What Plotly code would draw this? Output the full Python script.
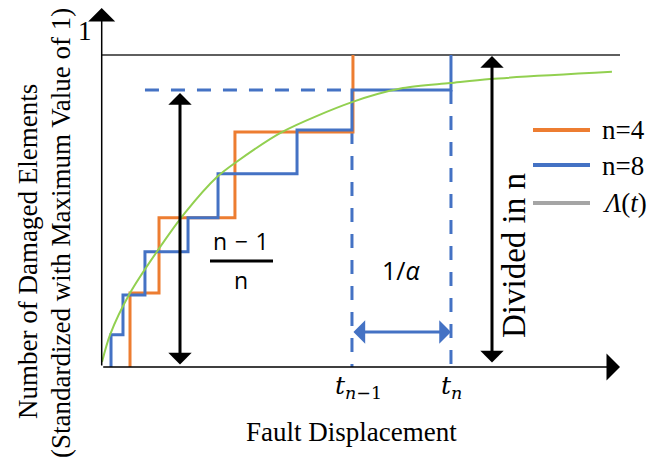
import plotly.graph_objects as go

# ---------------- data ----------------
# n = 4 step function: jump positions and levels after each jump
n4_jump_x = [0.286, 0.579, 1.346, 2.538]
n4_levels = [0.237, 0.478, 0.753, 1.000]
# n = 8 step function
n8_jump_x = [0.094, 0.215, 0.437, 0.872, 1.175, 1.973, 2.528, 3.528]
n8_levels = [0.103, 0.231, 0.369, 0.478, 0.619, 0.760, 0.888, 1.000]
# Lambda(t) curve
lam_x = [0.003, 0.084, 0.286, 0.569, 0.841, 1.164, 1.346, 1.820, 2.528, 3.043, 3.518, 3.922, 5.154]
lam_y = [0.016, 0.103, 0.237, 0.375, 0.494, 0.609, 0.654, 0.753, 0.849, 0.894, 0.910, 0.923, 0.946]
# start of the dashed (n-1)/n guide line
dash_h_start = 0.437
legend_labels = ["n=4", "n=8", "<i>Λ</i>(<i>t</i>)"]
x_label = "Fault Displacement"
y_label_1 = "Number of Damaged Elements"
y_label_2 = "(Standardized with Maximum Value of 1)"

# ---------------- styling / layout ----------------
W, H = 650, 463
ORANGE = "#ED7D31"
BLUE = "#4472C4"
GREEN = "#92D050"
GRAY = "#A5A5A5"
SERIF = "Liberation Serif, Times New Roman, serif"
MATH = "DejaVu Serif, serif"
SANS = "Open Sans, Liberation Sans, Arial, sans-serif"

# pixel mapping of the hidden axes (x0 at px 101.7, 99 px per unit; y0 at py 367, 312 px per unit)
X0PX, XPU, Y0PX, YPU = 101.7, 99.0, 367.0, 312.0
def X(px):
    return (px - X0PX) / XPU
def Y(py):
    return (Y0PX - py) / YPU

t_prev, t_n = n8_jump_x[-2], n8_jump_x[-1]
lvl_prev = n8_levels[-2]

fig = go.Figure()

# dashed guides
fig.add_trace(go.Scatter(x=[dash_h_start, t_prev], y=[lvl_prev, lvl_prev], mode="lines",
                         line=dict(color=BLUE, width=3, dash="14px,12px"), showlegend=False, hoverinfo="skip"))
fig.add_trace(go.Scatter(x=[t_prev, t_prev], y=[n8_levels[-3], 0], mode="lines",
                         line=dict(color=BLUE, width=3, dash="14px,12px"), showlegend=False, hoverinfo="skip"))
fig.add_trace(go.Scatter(x=[t_n, t_n], y=[lvl_prev, 0], mode="lines",
                         line=dict(color=BLUE, width=3, dash="14px,12px"), showlegend=False, hoverinfo="skip"))

# step functions
fig.add_trace(go.Scatter(x=[n4_jump_x[0]] + n4_jump_x, y=[0] + n4_levels, mode="lines",
                         line=dict(color=ORANGE, width=3, shape="hv"), name="n=4", showlegend=False))
fig.add_trace(go.Scatter(x=[n8_jump_x[0]] + n8_jump_x, y=[0] + n8_levels, mode="lines",
                         line=dict(color=BLUE, width=3, shape="hv"), name="n=8", showlegend=False))
# Lambda(t)
fig.add_trace(go.Scatter(x=lam_x, y=lam_y, mode="lines",
                         line=dict(color=GREEN, width=2, shape="spline", smoothing=0.8),
                         name="Λ(t)", showlegend=False))

shapes = []
# top line (value 1)
shapes.append(dict(type="line", xref="x", yref="y", x0=0, x1=X(620), y0=1, y1=1,
                   line=dict(color="#5f5f5f", width=2), layer="below"))
# fraction bar
shapes.append(dict(type="line", xref="x", yref="y", x0=X(210), x1=X(273), y0=Y(261), y1=Y(261),
                   line=dict(color="black", width=3)))
# legend swatches
for py, col in zip([130, 165, 203], [ORANGE, BLUE, GRAY]):
    shapes.append(dict(type="line", xref="x", yref="y", x0=X(533), x1=X(590), y0=Y(py), y1=Y(py),
                       line=dict(color=col, width=4)))

ann = []
def arrow(x_tip, y_tip, x_tail, y_tail, color, width, size, both=True):
    ann.append(dict(x=x_tip, y=y_tip, ax=x_tail, ay=y_tail, xref="x", yref="y", axref="x", ayref="y",
                    text="", showarrow=True, arrowhead=1, startarrowhead=1, arrowsize=size,
                    startarrowsize=size, arrowwidth=width, arrowcolor=color,
                    arrowside="end+start" if both else "end", standoff=0, startstandoff=0))

# axes with arrows
arrow(X(620), 0, 0, 0, "black", 1.5, 3.0, both=False)
arrow(0, Y(8), 0, 0, "black", 1.5, 3.0, both=False)
# (n-1)/n arrow
arrow(X(180), Y(93), X(180), Y(366), "black", 3, 1.3)
# divided in n arrow
arrow(X(492), Y(56), X(492), Y(364), "black", 3, 1.3)
# 1/alpha arrow
arrow(t_n, Y(332), t_prev, Y(332), BLUE, 3, 1.3)

def text(px, py, s, size, family=SERIF, angle=0, xanchor="center", color="black"):
    ann.append(dict(x=X(px), y=Y(py), xref="x", yref="y", text=s, showarrow=False,
                    font=dict(family=family, size=size, color=color), textangle=angle,
                    xanchor=xanchor, yanchor="middle"))

text(85, 31, "1", 27)
text(241, 241, "n\u2004\u2212\u20041", 23, family=SANS)
text(241, 280, "n", 23, family=SANS)
text(401, 270, "1/<i>α</i>", 25, family=SANS)
text(358, 387, "<i>t</i><sub><i>n</i>\u22121</sub>", 25, family=MATH)
text(451, 387, "<i>t</i><sub><i>n</i></sub>", 25, family=MATH)
text(351, 432, x_label, 27)
text(28, 252, y_label_1, 27, angle=-90)
text(61, 233, y_label_2, 27, angle=-90)
text(514, 256, "Divided in n", 33, angle=-90)
for py, lab in zip([130, 166, 203], legend_labels):
    text(600, py, lab, 27, xanchor="left")

fig.update_layout(
    width=W, height=H, margin=dict(l=0, r=0, t=0, b=0), autosize=False,
    paper_bgcolor="white", plot_bgcolor="white",
    xaxis=dict(visible=False, range=[X(0), X(W)], fixedrange=True),
    yaxis=dict(visible=False, range=[Y(H), Y(0)], fixedrange=True),
    shapes=shapes, annotations=ann, showlegend=False,
)

fig.write_html("out.html")
